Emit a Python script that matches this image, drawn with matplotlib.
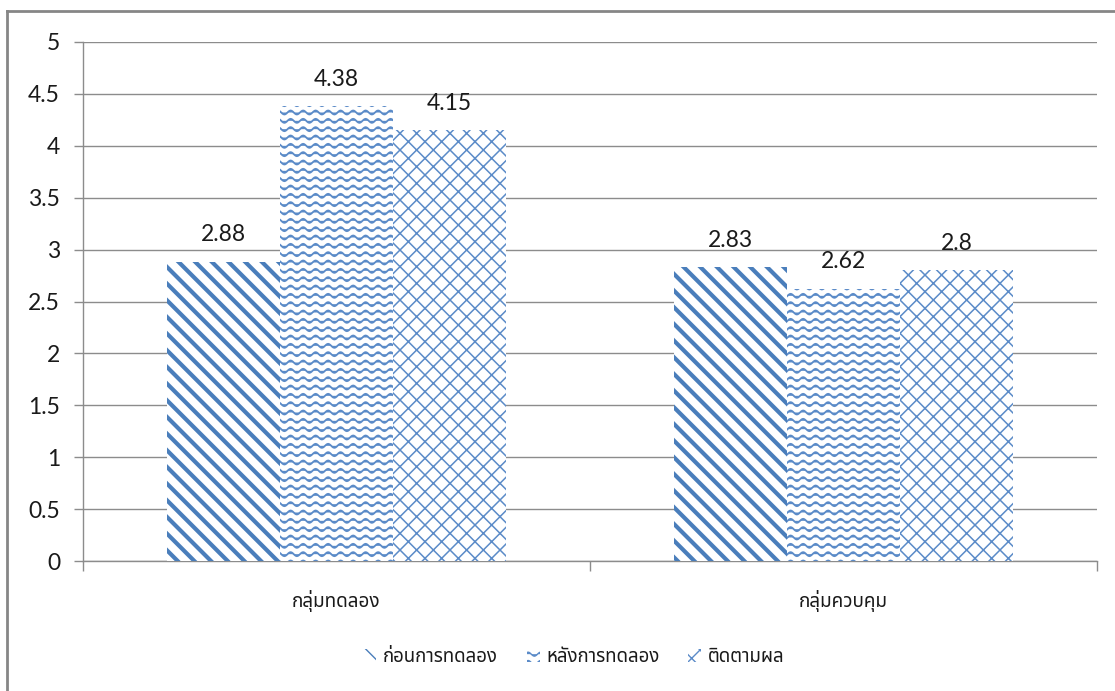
import matplotlib
matplotlib.use("Agg")
import numpy as np
import matplotlib.pyplot as plt
import matplotlib.hatch as mhatch
from matplotlib.path import Path
from matplotlib.patches import Patch
from matplotlib.lines import Line2D
from matplotlib.ticker import FixedLocator

# ---------------- data ----------------
categories = ["กลุ่มทดลอง", "กลุ่มควบคุม"]
series_names = ["ก่อนการทดลอง", "หลังการทดลอง", "ติดตามผล"]
before = [2.88, 2.83]
after = [4.38, 2.62]
follow = [4.15, 2.80]
yticks = [0, 0.5, 1, 1.5, 2, 2.5, 3, 3.5, 4, 4.5, 5]
ytick_labels = ["0", "0.5", "1", "1.5", "2", "2.5", "3", "3.5", "4", "4.5", "5"]


# ---------------- wave hatch (replaces the '|' hatch) ----------------
class WaveHatch(mhatch.HatchPatternBase):
    def __init__(self, hatch, density):
        self.num_lines = int(hatch.count('|') * density)
        self.npts = 97
        self.num_vertices = self.num_lines * self.npts

    def set_vertices_and_codes(self, vertices, codes):
        steps, stepsize = np.linspace(0.0, 1.0, self.num_lines, False, retstep=True)
        steps += stepsize / 2.0
        xs = np.linspace(0.0, 1.0, self.npts)
        amp = 0.02
        for i, s in enumerate(steps):
            sl = slice(i * self.npts, (i + 1) * self.npts)
            vertices[sl, 0] = xs
            vertices[sl, 1] = s + amp * np.sin(2 * np.pi * 8 * xs)
            codes[sl] = Path.LINETO
            codes[i * self.npts] = Path.MOVETO


mhatch._hatch_types = [WaveHatch if t is mhatch.VerticalHatch else t
                       for t in mhatch._hatch_types]

THAI = ['Noto Sans Thai', 'DejaVu Sans']
NUM = ['Lato', 'Noto Sans Thai', 'DejaVu Sans']
plt.rcParams['font.family'] = NUM

W, H = 1115, 691
fig = plt.figure(figsize=(W / 100, H / 100), dpi=100)
fig.patch.set_facecolor('white')

ax = fig.add_axes([83 / W, 1 - 561 / H, (1097 - 83) / W, (561 - 42) / H])

blue = '#4A7EBB'
blue2 = '#5B8BC8'
styles = [
    dict(hatch='\\\\', lw=3.0, color=blue),
    dict(hatch='||', lw=1.3, color=blue2),
    dict(hatch='xx', lw=1.1, color=blue2),
]
data = [before, after, follow]
width = 0.2233
x = np.arange(len(categories))
for i, (vals, st) in enumerate(zip(data, styles)):
    with plt.rc_context({'hatch.linewidth': st['lw'], 'hatch.color': st['color']}):
        bars = ax.bar(x + (i - 1) * width, vals, width, facecolor='white',
                      edgecolor=st['color'], linewidth=0, hatch=st['hatch'], zorder=3)
    for b in bars:
        try:
            b.set_hatch_linewidth(st['lw'])
        except Exception:
            pass
    for xi, v in zip(x + (i - 1) * width, vals):
        ax.annotate(f"{v:g}", (xi, v), xytext=(0, 19.5), textcoords='offset points',
                    ha='center', va='center', fontsize=16.5, color='#1a1a1a',
                    family=NUM, zorder=5)

ax.set_xlim(-0.5, 1.5)
ax.set_ylim(0, 5)
ax.set_yticks(yticks)
ax.set_yticklabels(ytick_labels)
ax.set_xticks(x)
ax.set_xticklabels(categories, family=THAI, fontsize=13.6)
ax.xaxis.set_minor_locator(FixedLocator([-0.5, 0.5, 1.5]))

grid_c = '#8C8C8C'
ax.yaxis.grid(True, color=grid_c, linewidth=1.0, zorder=0)
ax.set_axisbelow(True)
for s in ['top', 'right']:
    ax.spines[s].set_visible(False)
for s in ['left', 'bottom']:
    ax.spines[s].set_color(grid_c)
    ax.spines[s].set_linewidth(1.0)

ax.tick_params(axis='y', length=6.5, width=1, color=grid_c, pad=10,
               labelsize=16.5, labelcolor='#1a1a1a')
ax.tick_params(axis='x', which='major', length=0, pad=21, labelcolor='#1a1a1a')
ax.tick_params(axis='x', which='minor', length=7.5, width=1, color=grid_c)

# legend
handles = [Patch(facecolor='white', edgecolor=st['color'], linewidth=0, hatch=st['hatch'])
           for st in styles]
leg = fig.legend(handles, series_names, loc='center', bbox_to_anchor=(574 / W, 1 - 657 / H),
                 ncol=3, frameon=False, prop={'family': THAI, 'size': 13.4},
                 handlelength=0.7, handleheight=0.7, handletextpad=0.35, columnspacing=1.55)
for t in leg.get_texts():
    t.set_color('#1a1a1a')

# outer chart border (left and top visible)
fig.add_artist(Line2D([7 / W, 7 / W], [1 - 11 / H, -0.1], transform=fig.transFigure,
                      color='#868686', linewidth=2.0))
fig.add_artist(Line2D([7 / W, 1.1], [1 - 11 / H, 1 - 11 / H], transform=fig.transFigure,
                      color='#868686', linewidth=2.0))

fig.savefig("out.png", dpi=100, facecolor='white')
